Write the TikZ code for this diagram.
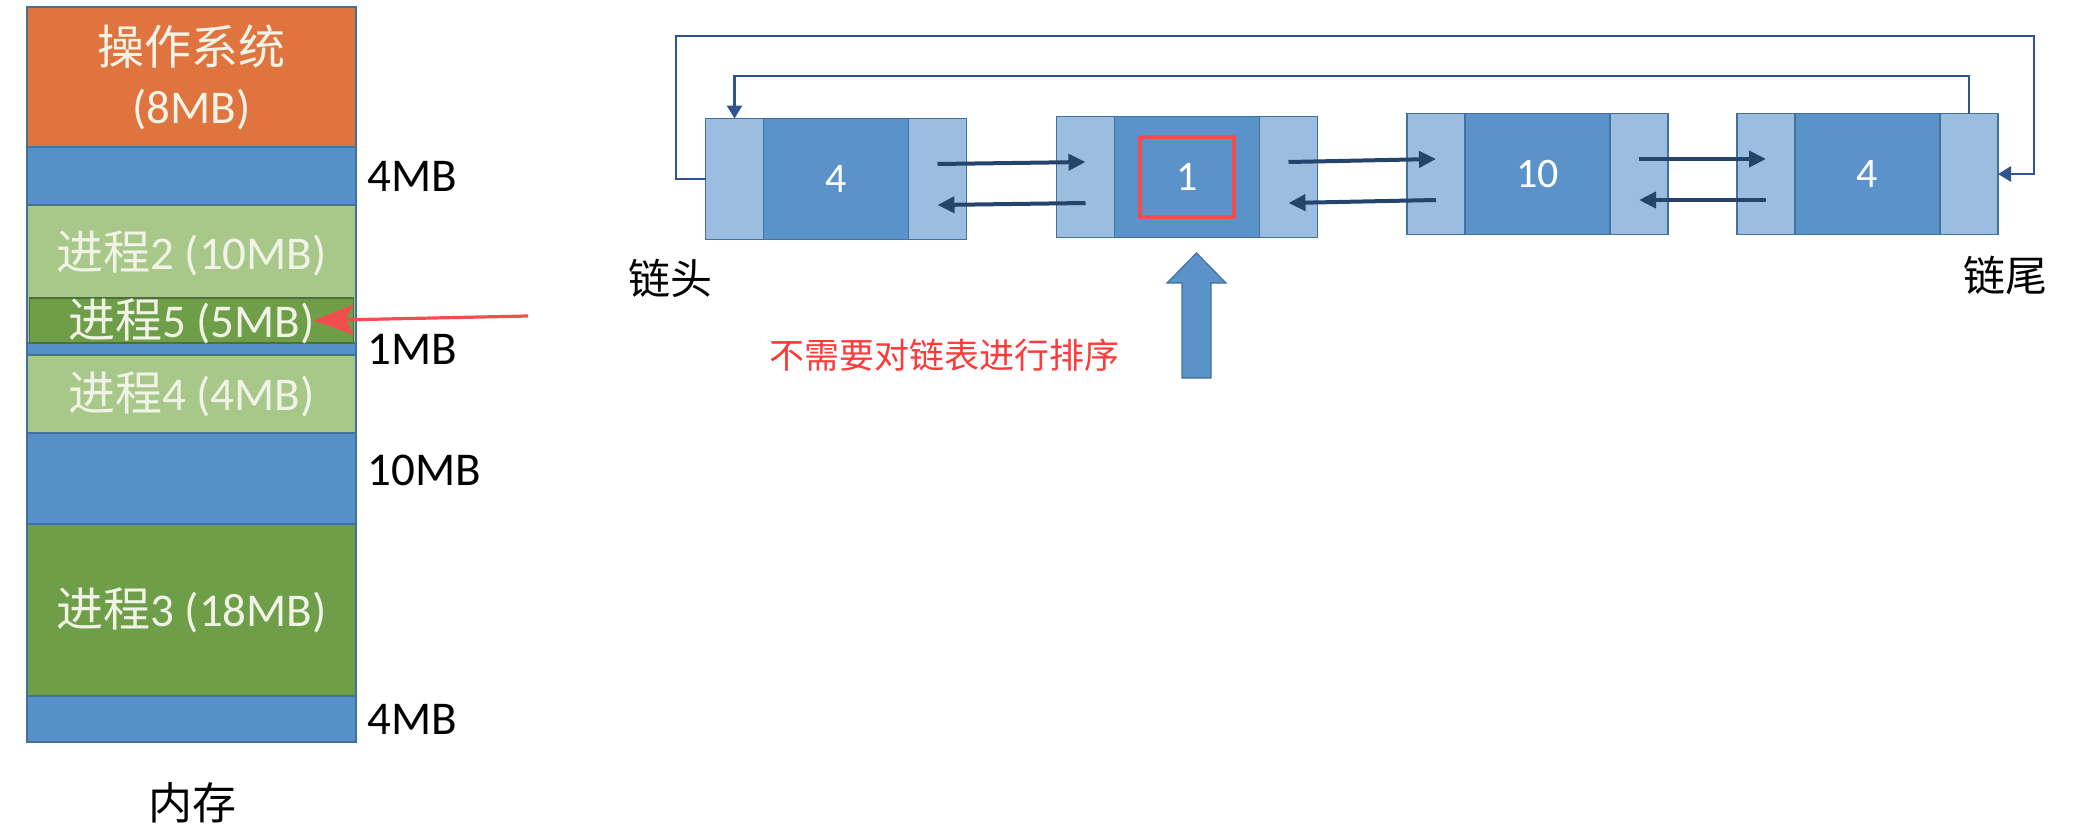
\documentclass[tikz,border=0pt]{standalone}
\usepackage{fontspec}
\setmainfont{Carlito}
\newfontfamily\cjk{Noto Sans CJK SC}
\usetikzlibrary{positioning,arrows.meta}
\definecolor{OSOrange}{HTML}{E0743F}
\definecolor{FreeBlue}{HTML}{5690C8}
\definecolor{LGreen}{HTML}{A8C88A}
\definecolor{DGreen}{HTML}{6F9E48}
\definecolor{Edge}{HTML}{41719C}
\definecolor{P5Edge}{HTML}{4E6E3C}
\definecolor{MemText}{HTML}{F1F3E6}
\definecolor{SideBlue}{HTML}{9BBDE0}
\definecolor{MidBlue}{HTML}{5A93CA}
\definecolor{LinkBlue}{HTML}{24446C}
\definecolor{RingBlue}{HTML}{2F5591}
\definecolor{Mark}{HTML}{F24E4E}
\definecolor{Note}{HTML}{FF3A3A}

\begin{document}
\begin{tikzpicture}[x=0.5pt, y=-0.5pt,
    memtext/.style={text=MemText, font=\fontsize{23.5}{29.5}\selectfont, align=center},
    mem/.style={memtext, draw=Edge, line width=0.6pt, minimum width=164.5pt, inner sep=0pt, outer sep=0pt},
    sizelabel/.style={inner sep=0pt, font=\fontsize{23.5}{27}\selectfont},
    listside/.style={draw=Edge, line width=0.6pt, fill=SideBlue, minimum width=29pt, minimum height=60.5pt, inner sep=0pt, outer sep=0pt},
    listmid/.style={draw=Edge, line width=0.6pt, fill=MidBlue, minimum width=72.5pt, minimum height=60.5pt, inner sep=0pt, outer sep=0pt, text=white, font=\fontsize{21}{25}\selectfont},
    link/.style={LinkBlue, line width=2pt, -{Triangle[length=8.5pt, width=8pt]}},
    ringline/.style={RingBlue, line width=1.4pt, -{Triangle[length=6.5pt, width=7.5pt]}},
    listlabel/.style={inner sep=0pt, font=\cjk\fontsize{21}{25}\selectfont},
]

    \def\px{0.5pt}

    \useasboundingbox (0,0) rectangle (2079,831);

    % Memory
    \node[mem, fill=OSOrange, minimum height=140*\px] (os) at (191.5,77) {{\cjk 操作系统}\\(8MB)};
    \node[mem, fill=FreeBlue, minimum height=58*\px, below=0pt of os] (free-a) {};
    \node[mem, fill=LGreen, minimum height=138*\px, below=0pt of free-a,
        label={[memtext, yshift=10.5pt]center:{\cjk 进程}2 (10MB)}] (p2) {};
    \node[mem, fill=FreeBlue, minimum height=12*\px, below=0pt of p2] (free-b) {};
    \node[mem, fill=LGreen, minimum height=78*\px, below=0pt of free-b] (p4) {{\cjk 进程}4 (4MB)};
    \node[mem, fill=FreeBlue, minimum height=91*\px, below=0pt of p4] (free-c) {};
    \node[mem, fill=DGreen, minimum height=172*\px, below=0pt of free-c] (p3) {{\cjk 进程}3 (18MB)};
    \node[mem, fill=FreeBlue, minimum height=46*\px, below=0pt of p3] (free-d) {};

    % Process 5 put into the hole
    \node[mem, fill=DGreen, draw=P5Edge, minimum width=162pt, minimum height=45*\px,
        text height=16.5pt, text depth=0pt, anchor=south] (p5) at (p2.south) {{\cjk 进程}5 (5MB)};

    \node[sizelabel, right=5.5pt of free-a] (sz-a) {4MB};
    \node[sizelabel, right=5.5pt of free-b] (sz-b) {1MB};
    \node[sizelabel, right=5.5pt of free-c, yshift=4pt] (sz-c) {10MB};
    \node[sizelabel, right=5.5pt of free-d] (sz-d) {4MB};

    \node[listlabel, font=\cjk\fontsize{22}{26}\selectfont] (ram) at (192,803) {内存};

    \coordinate (pick) at (528,316);
    \draw[Mark, line width=1.6pt, -{Stealth[length=20pt, width=15pt, inset=4pt]}]
        (pick) -- ([xshift=-20pt]p5.east);

    % Free list
    \foreach \i/\cx/\cy/\v in {1/836/179/4, 2/1187/177/1, 3/1537.5/174/10, 4/1867.5/174/4} {
        \node[listmid] (n\i-m) at (\cx,\cy) {\v};
        \node[listside, left=0pt of n\i-m] (n\i-l) {};
        \node[listside, right=0pt of n\i-m] (n\i-r) {};
    }
    \node[draw=Mark, line width=2pt, minimum width=47pt, minimum height=40pt] (hit) at (n2-m) {};

    \foreach \a/\b in {1/2, 2/3, 3/4} {
        \draw[link] ([yshift=7.5pt]n\a-r.center) -- ([yshift=7.5pt]n\b-l.center);
        \draw[link] ([yshift=-13pt]n\b-l.center) -- ([yshift=-13pt]n\a-r.center);
    }

    % Ring
    \coordinate (outer-l) at (676,36);
    \coordinate (outer-r) at (2034,36);
    \coordinate (inner) at (1400,76);
    \draw[ringline] (n1-l.west) -| (outer-l) -- (outer-r) |- (n4-r.east);
    \draw[ringline] (n4-r.north) |- (inner) -| (n1-l.north);

    \node[listlabel] (head) at (670,278) {链头};
    \node[listlabel] (tail) at (2005,275) {链尾};

    % Pointer
    \draw[draw=Edge, fill=MidBlue, line width=0.6pt]
        (1182,378) -- (1182,283) -- (1167,283) -- (1196.5,253) -- (1226,283) -- (1211,283) -- (1211,378) -- cycle;

    \node[text=Note, font=\cjk\fontsize{17.5}{21}\selectfont, inner sep=0pt] (note) at (944.5,355)
        {不需要对链表进行排序};

\end{tikzpicture}
\end{document}
